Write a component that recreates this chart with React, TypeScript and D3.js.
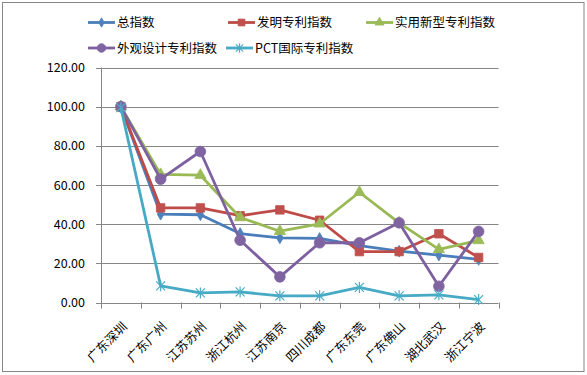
import React from 'react';
import * as d3 from 'd3';

const categories = ['广东深圳', '广东广州', '江苏苏州', '浙江杭州', '江苏南京', '四川成都', '广东东莞', '广东佛山', '湖北武汉', '浙江宁波'];
const seriesNames = ['总指数', '发明专利指数', '实用新型专利指数', '外观设计专利指数', 'PCT国际专利指数'];
const totalIndex = [100, 45.1, 44.8, 35.2, 33.0, 32.7, 29.0, 26.2, 24.2, 22.0];
const inventionIndex = [100, 48.3, 48.3, 44.3, 47.3, 42.0, 26.0, 26.0, 35.1, 23.0];
const utilityIndex = [100, 65.4, 65.0, 43.4, 36.4, 40.2, 56.3, 40.7, 27.1, 31.7];
const designIndex = [100, 63.0, 77.1, 31.8, 13.1, 30.5, 30.5, 40.7, 8.3, 36.3];
const pctIndex = [99.5, 8.5, 4.9, 5.4, 3.4, 3.4, 7.7, 3.4, 3.9, 1.5];
const yTicks = [0, 20, 40, 60, 80, 100, 120];

const allValues = [totalIndex, inventionIndex, utilityIndex, designIndex, pctIndex];
const lineColors = ['#4A7EBB', '#BE4B48', '#98B954', '#7D60A0', '#46AAC5'];
const markerColors = ['#4F81BD', '#C0504D', '#9BBB59', '#8064A2', '#4BACC6'];
const markerTypes = ['diamond', 'square', 'triangle', 'circle', 'star'];

const W = 587, H = 375;
const L = 101, R = 498.5, T = 67.5, B = 302.5;
const font = '"Noto Sans CJK SC", "Noto Sans", sans-serif';

function Marker({ type, x, y, color, small }: { type: string; x: number; y: number; color: string; small?: boolean }) {
  const k = small ? 0.8 : 1;
  if (type === 'star') {
    const s = 4.5 * k;
    return (
      <g stroke={color} strokeWidth={1.2} fill="none">
        <line x1={x - s} y1={y - s} x2={x + s} y2={y + s} />
        <line x1={x - s} y1={y + s} x2={x + s} y2={y - s} />
        <line x1={x} y1={y - s - 1} x2={x} y2={y + s + 1} />
      </g>
    );
  }
  let sym: d3.SymbolType = d3.symbolCircle;
  let size = 90;
  if (type === 'diamond') { sym = d3.symbolDiamond; size = 40; }
  if (type === 'square') { sym = d3.symbolSquare; size = 72; }
  if (type === 'triangle') { sym = d3.symbolTriangle; size = 55; }
  const p = d3.symbol().type(sym).size(size * k * k)() || '';
  return <path d={p} transform={`translate(${x},${y})`} fill={color} stroke={color} strokeWidth={0.8} />;
}

export default function App() {
  const x = d3.scaleBand<string>().domain(categories).range([L, R]);
  const y = d3.scaleLinear().domain([0, 120]).range([B, T]);
  const cx = (c: string) => (x(c) || 0) + x.bandwidth() / 2;
  const line = d3.line<number>().x((_, i) => cx(categories[i])).y((v) => y(v));

  const legendItems = [
    { x: 88, y: 22.5 },
    { x: 228, y: 22.5 },
    { x: 366, y: 22.5 },
    { x: 88, y: 48 },
    { x: 226, y: 48 },
  ];

  return (
    <svg width={W} height={H} style={{ position: 'fixed', left: 0, top: 0, background: '#fff' }} fontFamily={font}>
      <rect x={2.5} y={2.5} width={581.5} height={369} fill="#fff" stroke="#868686" strokeWidth={1} />
      {yTicks.map((t) => (
        <g key={t}>
          <line x1={L} x2={R} y1={Math.round(y(t)) + 0.5} y2={Math.round(y(t)) + 0.5} stroke="#868686" strokeWidth={1} />
          <line x1={L - 5} x2={L} y1={Math.round(y(t)) + 0.5} y2={Math.round(y(t)) + 0.5} stroke="#868686" strokeWidth={1} />
          <text x={85} y={y(t)} dy="0.36em" textAnchor="end" fontSize={12.5} fill="#000">{t.toFixed(2)}</text>
        </g>
      ))}
      <line x1={L + 0.5} x2={L + 0.5} y1={T} y2={B + 6} stroke="#868686" strokeWidth={1} />
      {categories.map((c, i) => (
        <line key={'t' + i} x1={Math.round((x(c) || 0) + x.bandwidth()) + 0.5} x2={Math.round((x(c) || 0) + x.bandwidth()) + 0.5} y1={B} y2={B + 6} stroke="#868686" strokeWidth={1} />
      ))}
      {categories.map((c) => (
        <text key={c} transform={`translate(${cx(c) + 7},${B + 25}) rotate(-45)`} textAnchor="end" fontSize={12.5} fill="#000">{c}</text>
      ))}
      {allValues.map((vals, si) => (
        <g key={si}>
          <path d={line(vals) || ''} fill="none" stroke={lineColors[si]} strokeWidth={2.8} strokeLinejoin="round" />
          {vals.map((v, i) => (
            <Marker key={i} type={markerTypes[si]} x={cx(categories[i])} y={y(v)} color={markerColors[si]} />
          ))}
        </g>
      ))}
      {seriesNames.map((n, i) => {
        const it = legendItems[i];
        return (
          <g key={n}>
            <line x1={it.x} x2={it.x + 27} y1={it.y} y2={it.y} stroke={lineColors[i]} strokeWidth={2.8} />
            <Marker type={markerTypes[i]} x={it.x + 13.5} y={it.y} color={markerColors[i]} small />
            <text x={it.x + 29} y={it.y} dy="0.36em" fontSize={12.5} fill="#000">{n}</text>
          </g>
        );
      })}
    </svg>
  );
}
